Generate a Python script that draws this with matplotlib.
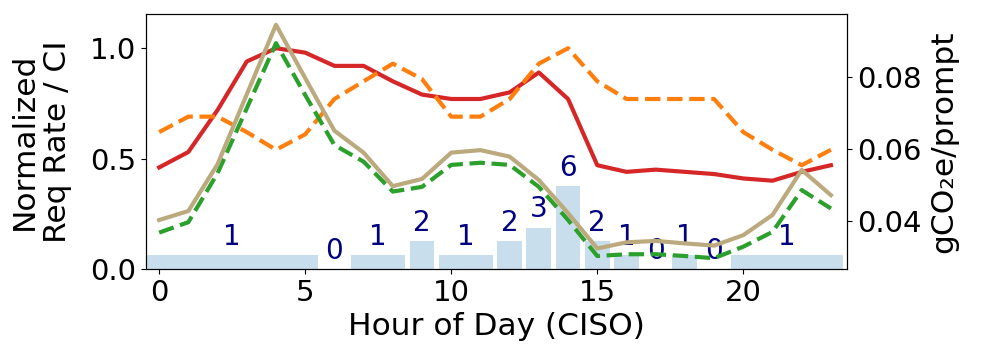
import matplotlib
matplotlib.use("Agg")
import matplotlib.pyplot as plt
import numpy as np

hours = np.arange(24)

# left axis: normalized request rate and carbon intensity
req_rate = [0.46, 0.53, 0.72, 0.94, 1.00, 0.98, 0.92, 0.92, 0.85, 0.79, 0.77, 0.77,
            0.80, 0.89, 0.77, 0.47, 0.44, 0.45, 0.44, 0.43, 0.41, 0.40, 0.44, 0.47]
carbon_int = [0.62, 0.69, 0.69, 0.62, 0.54, 0.61, 0.77, 0.85, 0.93, 0.86, 0.69, 0.69,
              0.77, 0.93, 1.00, 0.85, 0.77, 0.77, 0.77, 0.77, 0.62, 0.54, 0.47, 0.54]

# right axis: gCO2e per prompt
co2_a = [0.0367, 0.0396, 0.0532, 0.0712, 0.0893, 0.0749, 0.0610, 0.0564, 0.0481, 0.0494, 0.0555, 0.0561,
         0.0555, 0.0494, 0.0402, 0.0302, 0.0307, 0.0307, 0.0302, 0.0296, 0.0328, 0.0369, 0.0485, 0.0434]
co2_b = [0.0402, 0.0427, 0.0557, 0.0751, 0.0944, 0.0796, 0.0650, 0.0589, 0.0496, 0.0516, 0.0589, 0.0596,
         0.0578, 0.0513, 0.0421, 0.0323, 0.0340, 0.0344, 0.0337, 0.0331, 0.0360, 0.0416, 0.0541, 0.0471]

# hour groups and counts for the bars
grp_start = [0, 6, 7, 9, 10, 12, 13, 14, 15, 16, 17, 18, 19, 20]
grp_end   = [5, 6, 8, 9, 11, 12, 13, 14, 15, 16, 17, 18, 19, 23]
grp_count = [1, 0, 1, 2, 1, 2, 3, 6, 2, 1, 0, 1, 0, 1]

plt.rcParams['font.family'] = ['DejaVu Sans']

fig, ax = plt.subplots(figsize=(9.96, 3.56), dpi=100)
fig.subplots_adjust(left=0.1466, right=0.8504, top=0.9607, bottom=0.2444)

w = 0.85
for s, e, c in zip(grp_start, grp_end, grp_count):
    h = c / 16
    ax.bar(s - w / 2, h, width=e - s + w, align='edge', color='tab:blue', alpha=0.24, zorder=1)
    ax.text((s + e) / 2, h + 0.02, str(c), ha='center', va='bottom', color='navy', fontsize=20, zorder=2)

ax.plot(hours, req_rate, color='tab:red', lw=3, zorder=3)
ax.plot(hours, carbon_int, color='tab:orange', lw=3, ls='--', zorder=3)

ax2 = ax.twinx()
ax2.plot(hours, co2_a, color='tab:green', lw=3, ls='--')
ax2.plot(hours, co2_b, color='#bbaa7d', lw=3)

ax.set_xlim(-0.45, 23.55)
ax.set_ylim(0, 1.155)
ax2.set_ylim(0.0266, 0.0974)

ax.set_xticks([0, 5, 10, 15, 20])
ax.set_yticks([0.0, 0.5, 1.0])
ax2.set_yticks([0.04, 0.06, 0.08])
ax.tick_params(labelsize=21)
ax2.tick_params(labelsize=21)

ax.set_xlabel('Hour of Day (CISO)', fontsize=22.5)
ax.set_ylabel('Normalized\nReq Rate / CI', fontsize=22.5, labelpad=13)
ax2.set_ylabel('gCO₂e/prompt', fontsize=22.5, labelpad=6)

fig.savefig('out.png', dpi=100)
